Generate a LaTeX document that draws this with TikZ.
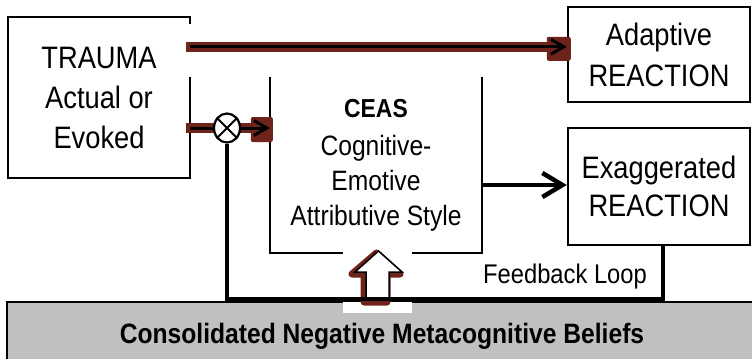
\documentclass[tikz,border=0pt]{standalone}
\usepackage{fontspec}
\setmainfont{Liberation Sans}[FakeStretch=0.88]
\usetikzlibrary{arrows.meta,shapes.geometric,calc}
\definecolor{glow}{RGB}{110,36,26}
\definecolor{beliefgray}{RGB}{192,192,192}
\begin{document}
\begin{tikzpicture}[x=1pt,y=-1pt,
  boxline/.style={line width=2.5pt},
  txtbox/.style={inner sep=0pt, align=center},
  band/.style={glow, line width=10pt},
  blob/.style={glow, fill=glow, rounded corners=2pt},
  blackarrow/.style={line width=3pt, -{Straight Barb[length=13pt,width=15pt]}},
  bigarrow/.style={line width=4.5pt, -{Straight Barb[length=20pt,width=24pt]}},
  fbline/.style={line width=3.5pt}]
\useasboundingbox (0,0) rectangle (752,359);
% grey beliefs bar
\fill[beliefgray] (7,302) rectangle (752,359);
\draw[line width=1.5pt] (7,359) -- (7,302) -- (752,302);
\fill[white] (343,302) rectangle (412,313);
\node[anchor=base, font=\fontsize{28}{28}\selectfont\bfseries] (B) at (382,343) {Consolidated Negative Metacognitive Beliefs};
% boxes
\node[txtbox, minimum width=182pt, minimum height=161pt, font=\fontsize{31}{40}\selectfont] (T) at (99,97.5) {TRAUMA\\Actual or\\Evoked};
\draw[boxline] ($(T.north east)+(0,7)$) -- (T.north east) -- (T.north west) -- (T.south west) -- (T.south east) -- ($(T.south east)+(0,-101)$);
\node[txtbox, draw, boxline, minimum width=182pt, minimum height=95pt, font=\fontsize{31}{41}\selectfont] (A) at (659,54.5) {Adaptive\\REACTION};
\node[txtbox, draw, boxline, minimum width=182pt, minimum height=117pt, font=\fontsize{31}{38}\selectfont] (E) at (659,186.5) {Exaggerated\\REACTION};
\node[txtbox, minimum width=212pt, minimum height=176pt, font=\fontsize{28}{35}\selectfont] (C) at (376,165) {{\bfseries\fontsize{26}{35}\selectfont CEAS}\\[3pt]Cognitive-\\Emotive\\Attributive Style};
\draw[boxline] (C.north west) -- (C.south west) -- ($(C.south west)+(73,0)$);
\draw[boxline] ($(C.south east)+(-70,0)$) -- (C.south east) -- (C.north east);
% upper brown arrow
\coordinate (s1) at ($(T.north east)+(-4,30)$);
\draw[band] (s1) -- ($(s1 -| A.west)+(4,0)$);
\fill[blob] ($(s1 -| A.west)+(-20,-10)$) rectangle ($(s1 -| A.west)+(4,14)$);
\draw[blackarrow] ($(s1)+(4,0)$) -- (s1 -| A.west);
% lower brown arrow with junction
\coordinate (xc) at (227,128);
\draw[band] ($(T.east |- xc)+(-4,0)$) -- ($(C.west |- xc)+(3,0)$);
\fill[blob] ($(C.west |- xc)+(-19,-11)$) rectangle ($(C.west |- xc)+(3,14)$);
\node[draw, ellipse, fill=white, line width=2.2pt, minimum width=26pt, minimum height=29pt, inner sep=0pt] (X) at (xc) {};
\draw[line width=2pt] (X.45) -- (X.225) (X.135) -- (X.315);
\draw[line width=3pt] (T.east |- xc) -- (X.west);
\draw[blackarrow] (X.east) -- (C.west |- xc);
% CEAS to exaggerated
\coordinate (s2) at ($(C.east)+(0,20)$);
\draw[bigarrow] (s2) -- (s2 -| E.west);
% up block arrow
\draw[glow, line width=7pt, line join=round] (364,302) -- (364,274) -- (352,274) -- (376.5,253) -- (400,274) -- (387,274) -- (387,302) -- cycle;
\draw[fill=white, line width=1.5pt] (366,300) -- (366,272) -- (355,272) -- (378.5,251) -- (402,272) -- (389,272) -- (389,300) -- cycle;
% feedback loop
\coordinate (fb) at (663,299);
\draw[fbline] (X.south) |- (fb) -- (fb |- E.south);
\node[anchor=base, font=\fontsize{27}{27}\selectfont] (FL) at (565,283) {Feedback Loop};
\end{tikzpicture}
\end{document}
